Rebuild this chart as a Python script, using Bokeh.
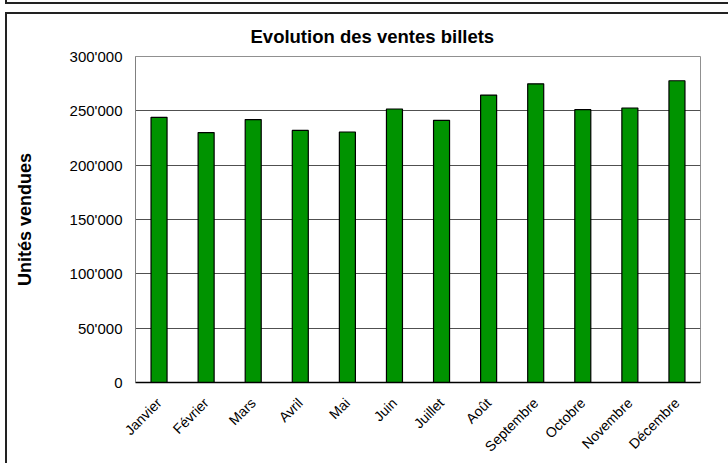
import math
from bokeh.plotting import figure
from bokeh.layouts import column
from bokeh.models import FactorRange, Range1d, CustomJSTickFormatter, FixedTicker, Div
from bokeh.embed import file_html
from bokeh.resources import INLINE

months = ["Janvier", "Février", "Mars", "Avril", "Mai", "Juin", "Juillet",
          "Août", "Septembre", "Octobre", "Novembre", "Décembre"]
ventes = [244000, 230000, 242000, 232000, 230500, 251700, 241300,
          264500, 274900, 251100, 252600, 277700]
y_ticks = [0, 50000, 100000, 150000, 200000, 250000, 300000]

FONT = "Liberation Sans"

p = figure(width=728, height=463,
           x_range=FactorRange(*months, range_padding=0),
           y_range=Range1d(0, 300000),
           output_backend="svg", toolbar_location=None,
           min_border_left=135, min_border_right=28,
           min_border_top=56, min_border_bottom=80)

p.vbar(x=months, top=ventes, width=0.34, fill_color="#009300",
       line_color="#000000", line_width=1.2)

# title
p.title.text = "Evolution des ventes billets"
p.title.align = "left"
p.title.offset = 115
p.title.standoff = 20
p.title.text_font = FONT
p.title.text_font_size = "18.5px"
p.title.text_font_style = "bold"
p.title.text_color = "#000000"

# y axis
p.yaxis.ticker = FixedTicker(ticks=y_ticks)
p.yaxis.formatter = CustomJSTickFormatter(code="""
    return Math.round(tick).toString().replace(/\\B(?=(\\d{3})+(?!\\d))/g, "'");
""")
p.yaxis.axis_label = "Unités vendues"
p.yaxis.axis_label_text_font = FONT
p.yaxis.axis_label_text_font_size = "18px"
p.yaxis.axis_label_text_font_style = "bold"
p.yaxis.axis_label_text_color = "#000000"
p.yaxis.axis_label_standoff = 32
p.yaxis.major_label_text_font = FONT
p.yaxis.major_label_text_font_size = "15px"
p.yaxis.major_label_text_color = "#000000"
p.yaxis.major_label_standoff = 13
p.yaxis.major_tick_in = 0
p.yaxis.major_tick_out = 0
p.yaxis.minor_tick_in = 0
p.yaxis.minor_tick_out = 0
p.yaxis.axis_line_color = "#808080"

# x axis
p.xaxis.major_label_orientation = math.pi / 4
p.xaxis.major_label_text_font = FONT
p.xaxis.major_label_text_font_size = "14px"
p.xaxis.major_label_text_color = "#000000"
p.xaxis.major_label_standoff = 18
p.xaxis.major_tick_in = 0
p.xaxis.major_tick_out = 0
p.xaxis.axis_line_color = "#000000"
p.xaxis.axis_line_width = 1.5

p.xgrid.grid_line_color = None
p.ygrid.grid_line_color = "#505050"
p.ygrid.grid_line_width = 1

p.outline_line_color = "#909090"
p.outline_line_width = 1

# outer chart frame and the bottom edge of the box above it
frame_lines = Div(text="", margin=0, styles={
    "position": "absolute", "left": "5px", "top": "12px",
    "width": "723px", "height": "451px", "box-sizing": "border-box",
    "border-left": "2px solid #222222", "border-top": "2px solid #222222",
    "pointer-events": "none", "z-index": "10"})
upper_lines = Div(text="", margin=0, styles={
    "position": "absolute", "left": "5px", "top": "0px",
    "width": "723px", "height": "4px", "box-sizing": "border-box",
    "border-left": "2px solid #222222", "border-bottom": "2px solid #222222",
    "pointer-events": "none", "z-index": "10"})

layout = column(p, frame_lines, upper_lines, spacing=0)

open("out.html", "w").write(file_html(layout, INLINE))
